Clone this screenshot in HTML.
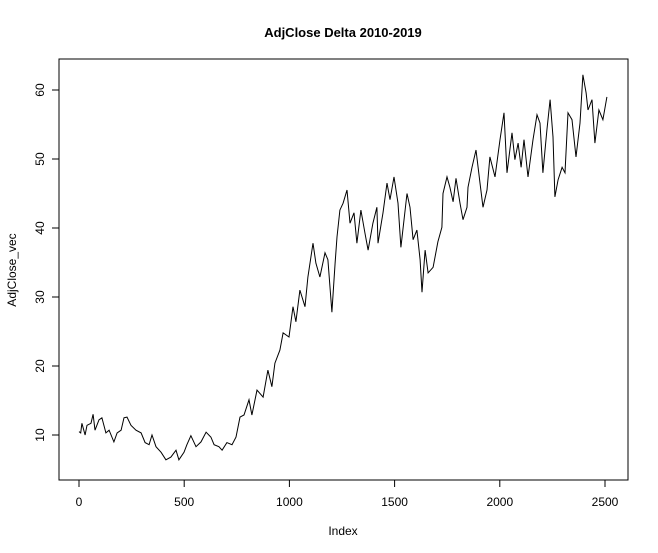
<!DOCTYPE html>
<html><head><meta charset="utf-8"><style>
body{margin:0;background:#fff;}
svg{display:block;font-family:"Liberation Sans",Arial,sans-serif;}
</style></head><body>
<svg id="chart" width="658" height="553">
<rect width="658" height="553" fill="#fff"/>
<text x="343" y="37" text-anchor="middle" font-size="13" font-weight="bold">AdjClose Delta 2010-2019</text>
<rect x="59" y="59" width="569" height="421" fill="none" stroke="#000" stroke-width="1"/>
<g id="xaxis"></g>
<g id="yaxis"></g>
<text x="343" y="535" text-anchor="middle" font-size="12">Index</text>
<text x="16" y="270" text-anchor="middle" font-size="12" transform="rotate(-90 16 270)">AdjClose_vec</text>
<path id="series" fill="none" stroke="#000" stroke-width="1"/>
</svg>
<script>
const indices=[0,8,14,29,38,57,67,76,95,109,128,143,166,181,200,214,228,247,271,295,314,333,347,366,390,413,437,461,475,499,513,532,556,580,604,627,642,665,680,703,727,746,765,784,808,822,846,875,898,917,931,955,970,998,1017,1031,1050,1074,1088,1112,1126,1145,1169,1183,1202,1217,1226,1240,1255,1274,1288,1307,1321,1340,1359,1374,1397,1416,1421,1445,1464,1478,1497,1516,1530,1559,1573,1588,1606,1621,1630,1645,1659,1683,1706,1725,1730,1749,1763,1778,1792,1811,1825,1844,1849,1868,1887,1906,1920,1939,1953,1977,2001,2020,2034,2058,2072,2087,2101,2115,2134,2158,2177,2191,2205,2224,2239,2253,2262,2277,2296,2310,2324,2343,2362,2381,2395,2410,2419,2438,2452,2471,2490,2509];
const values=[10.5,10.3,11.7,10,11.4,11.7,13,10.7,12.2,12.5,10.3,10.7,9,10.3,10.7,12.5,12.6,11.4,10.7,10.3,8.9,8.6,10,8.3,7.5,6.4,6.8,7.8,6.4,7.5,8.6,9.9,8.3,9,10.4,9.7,8.6,8.3,7.8,8.9,8.6,9.7,12.6,12.9,15.1,12.9,16.5,15.5,19.4,17,20.4,22.3,24.8,24.2,28.6,26.4,31,28.6,32.9,37.8,34.9,32.9,36.4,35.4,27.8,34.9,38.7,42.6,43.6,45.5,40.7,42.2,37.8,42.6,39.3,36.8,40.7,43,37.8,42.2,46.5,44.1,47.4,43.6,37.2,45,43,38.3,39.7,35.4,30.7,36.8,33.5,34.3,38,40.1,45,47.4,45.9,43.8,47.2,43.6,41.2,43,45.9,48.8,51.3,46.5,43,45.5,50.3,47.4,52.8,56.7,48,53.8,49.9,52.3,48.8,52.8,47.4,52.8,56.4,55.2,48,54.2,58.6,53.2,44.5,47,48.8,48,56.7,55.7,50.3,55.2,62.2,59.6,57.1,58.6,52.3,57.1,55.7,59];
const xTicks=[0,500,1000,1500,2000,2500];
const yTicks=[10,20,30,40,50,60];
const NS="http://www.w3.org/2000/svg";
function sx(i){return 79+i*0.2104;}
function sy(v){return 435-(v-10)*6.9;}
const xa=document.getElementById('xaxis'), ya=document.getElementById('yaxis');
function mk(tag,attrs,parent){const e=document.createElementNS(NS,tag);for(const k in attrs)e.setAttribute(k,attrs[k]);parent.appendChild(e);return e;}
mk('line',{x1:sx(0),x2:sx(2500),y1:480,y2:480,stroke:'#000'},xa);
xTicks.forEach(t=>{
  const l=mk('line',{x1:sx(t),x2:sx(t),y1:480,y2:487,stroke:'#000'},xa);
  
  
  const tx=mk('text',{x:sx(t),y:506,'text-anchor':'middle','font-size':12},xa);
  tx.textContent=t;
  
  
});
mk('line',{x1:59,x2:59,y1:sy(10),y2:sy(60),stroke:'#000'},ya);
yTicks.forEach(t=>{
  const l=mk('line',{x1:52,x2:59,y1:sy(t),y2:sy(t),stroke:'#000'},ya);
  
  
  const y=sy(t);
  const tx=mk('text',{x:44,y:y,'text-anchor':'middle','font-size':12,transform:'rotate(-90 44 '+y+')'},ya);
  tx.textContent=t;
  
  
});
let d='';
indices.forEach((i,k)=>{d+=(k?'L':'M')+sx(i).toFixed(1)+','+sy(values[k]).toFixed(1);});
document.getElementById('series').setAttribute('d',d);
</script>
</body></html>
